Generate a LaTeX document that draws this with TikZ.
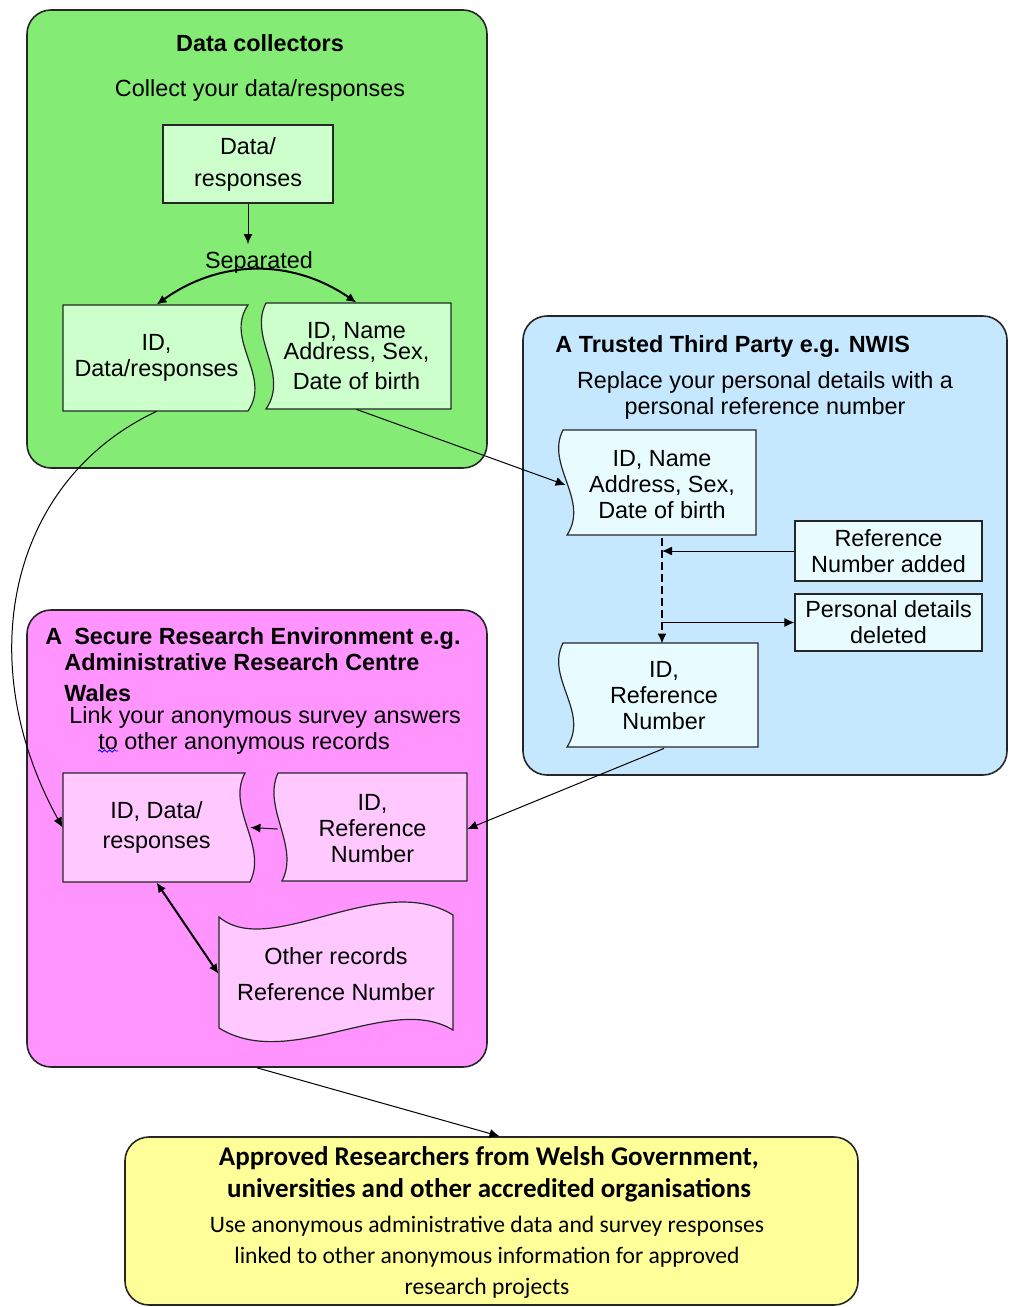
\documentclass[tikz,border=0pt]{standalone}
\usepackage{fontspec}
\setmainfont{Liberation Sans}
\newfontfamily\calibri{Carlito}
\usetikzlibrary{arrows.meta,decorations.pathmorphing}

\definecolor{collectgreen}{RGB}{132,236,116}
\definecolor{palegreen}{RGB}{204,255,204}
\definecolor{ttpblue}{RGB}{198,232,255}
\definecolor{paleblue}{RGB}{232,252,255}
\definecolor{sremagenta}{RGB}{255,148,255}
\definecolor{palepink}{RGB}{255,200,255}
\definecolor{researchyellow}{RGB}{255,255,153}

\pgfdeclarelayer{bg}
\pgfdeclarelayer{docs}
\pgfsetlayers{bg,docs,main}

\tikzset{
    panel/.style={draw=black!85, line width=0.8pt, rounded corners=12pt},
    box/.style={draw=black!85, line width=0.6pt, align=center, inner sep=1pt},
    doctext/.style={align=center, inner sep=0pt},
    docshape/.style={draw=black!85, line width=0.6pt},
    title/.style={font=\fontsize{11.7}{13}\selectfont\bfseries},
    arr/.style={-{Latex[length=5pt,width=4.5pt]}, line width=0.5pt},
    dblarr/.style={{Latex[length=5pt,width=4.5pt]}-{Latex[length=5pt,width=4.5pt]}, line width=1pt},
}

\begin{document}
\begin{tikzpicture}[x=0.5pt,y=-0.5pt, font=\fontsize{11.7}{13}\selectfont]
    \useasboundingbox (0,0) rectangle (1008,1307);

    % panels
    \begin{pgfonlayer}{bg}
        \node[panel, fill=collectgreen, minimum width=230pt, minimum height=229pt] (collect) at (257,239) {};
        \node[panel, fill=ttpblue, minimum width=242pt, minimum height=229.5pt] (ttp) at (765,545.5) {};
        \node[panel, fill=sremagenta, minimum width=230pt, minimum height=228.5pt] (sre) at (257,838.5) {};
        \node[panel, fill=researchyellow, minimum width=366.5pt, minimum height=84pt] (research) at (491.5,1221) {};
    \end{pgfonlayer}

    % record outlines
    \begin{pgfonlayer}{docs}
        \draw[docshape, fill=palegreen] (63,305) -- (248,305) .. controls (224,340) and (272,376) .. (248,411) -- (63,411) -- cycle;
        \draw[docshape, fill=palegreen] (266,303) -- (451,303) -- (451,409) -- (266,409) .. controls (290,374) and (248,338) .. (266,303) -- cycle;
        \draw[docshape, fill=paleblue] (563,430) -- (756,430) -- (756,535) -- (567,535) .. controls (590,500) and (545,465) .. (563,430) -- cycle;
        \draw[docshape, fill=paleblue] (563,643) -- (758,643) -- (758,747) -- (567,747) .. controls (590,712) and (545,678) .. (563,643) -- cycle;
        \draw[docshape, fill=palepink] (63,773) -- (245,773) .. controls (226,808) and (268,846) .. (250,882) -- (63,882) -- cycle;
        \draw[docshape, fill=palepink] (278,773) -- (467,773) -- (467,881) -- (282,881) .. controls (300,846) and (262,808) .. (278,773) -- cycle;
        \draw[docshape, fill=palepink] (219,917) .. controls (270,960) and (380,870) .. (453,915) -- (453,1030) .. controls (390,992) and (290,1072) .. (219,1028) -- cycle;
    \end{pgfonlayer}

    % data collectors
    \node[title] (collecttitle) at (260,43) {Data collectors};
    \node (collectsub) at (260,90) {Collect your data/responses};
    \node[box, fill=palegreen, minimum width=85pt, minimum height=39pt] (datresp) at (248,164) {Data/\\[3pt]responses};
    \node (sep) at (259,262) {Separated};
    \node[doctext, minimum width=93.5pt, minimum height=53pt] (docL) at (156.5,358) {ID,\\Data/responses};
    \node[doctext, minimum width=94.5pt, minimum height=53pt] (docR) at (356.5,356) {ID, Name\\[-2.5pt]Address, Sex,\\[2pt]Date of birth};

    % trusted third party
    \node[title, anchor=west, inner sep=0pt] (ttptitle) at (555,346) {A Trusted Third Party e.g. NWIS};
    \node[align=center] (ttpsub) at (765,395) {Replace your personal details with a\\personal reference number};
    \node[doctext, minimum width=96pt, minimum height=52.5pt] (tdoc1) at (662,485) {ID, Name\\Address, Sex,\\Date of birth};
    \node[box, fill=paleblue, minimum width=93.5pt, minimum height=30pt] (refadd) at (888.5,551) {Reference\\Number added};
    \node[box, fill=paleblue, minimum width=93.5pt, minimum height=28.5pt] (persdel) at (888.5,622.5) {Personal details\\deleted};
    \node[doctext, minimum width=97pt, minimum height=52pt] (tdoc2) at (664,696) {ID,\\Reference\\Number};

    % secure research environment
    \node[title, align=left, anchor=north west, inner sep=0pt] (sretitle) at (45,627)
        {A\hspace{6pt}Secure Research Environment e.g.\\\hspace*{9.5pt}Administrative Research Centre\\[2.5pt]\hspace*{9.5pt}Wales};
    \node[align=left, anchor=north west, inner sep=0pt] (sresub) at (69,706)
        {Link your anonymous survey answers\\\hspace*{14.5pt}to other anonymous records};
    \draw[blue, line width=0.4pt, decorate, decoration={snake, amplitude=0.6pt, segment length=2.5pt}] (98,751) -- (118,751);
    \node[doctext, minimum width=93.5pt, minimum height=54.5pt] (pdocL) at (156.5,827.5) {ID, Data/\\[2pt]responses};
    \node[doctext, minimum width=94.5pt, minimum height=54pt] (pdocR) at (372.5,829) {ID,\\Reference\\Number};
    \node[doctext, minimum width=117pt, minimum height=67.5pt] (other) at (336,974) {Other records\\[5pt]Reference Number};

    % approved researchers
    \node[align=center, font=\calibri\fontsize{13.5}{16}\selectfont\bfseries] (restitle) at (489,1174)
        {Approved Researchers from Welsh Government,\\universities and other accredited organisations};
    \node[align=center, font=\calibri\fontsize{11.8}{15.5}\selectfont] (restext) at (487,1257)
        {Use anonymous administrative data and survey responses\\linked to other anonymous information for approved\\research projects};

    % connectors
    \draw[arr] (datresp.south) -- (datresp.south |- sep.north);
    \draw[dblarr] (docL.north) to[bend left=35] (docR.north);
    \draw[arr] (docL.south) .. controls (10,480) and (-30,660) .. (pdocL.west);
    \draw[arr] (docR.south) -- (tdoc1.west);
    \draw[arr, dashed, dash pattern=on 4pt off 2pt, line width=0.9pt] (tdoc1.south) -- (tdoc1.south |- tdoc2.north);
    \draw[arr] (refadd.west) -- (refadd.west -| tdoc1.south);
    \draw[arr] (persdel.west -| tdoc1.south) -- (persdel.west);
    \draw[arr] (tdoc2.south) -- (pdocR.east);
    \draw[arr] (pdocR.west) -- (pdocL.east);
    \draw[dblarr] (pdocL.south) -- (other.west);
    \draw[arr] (sre.south) -- ([xshift=4pt]research.north);
\end{tikzpicture}
\end{document}
